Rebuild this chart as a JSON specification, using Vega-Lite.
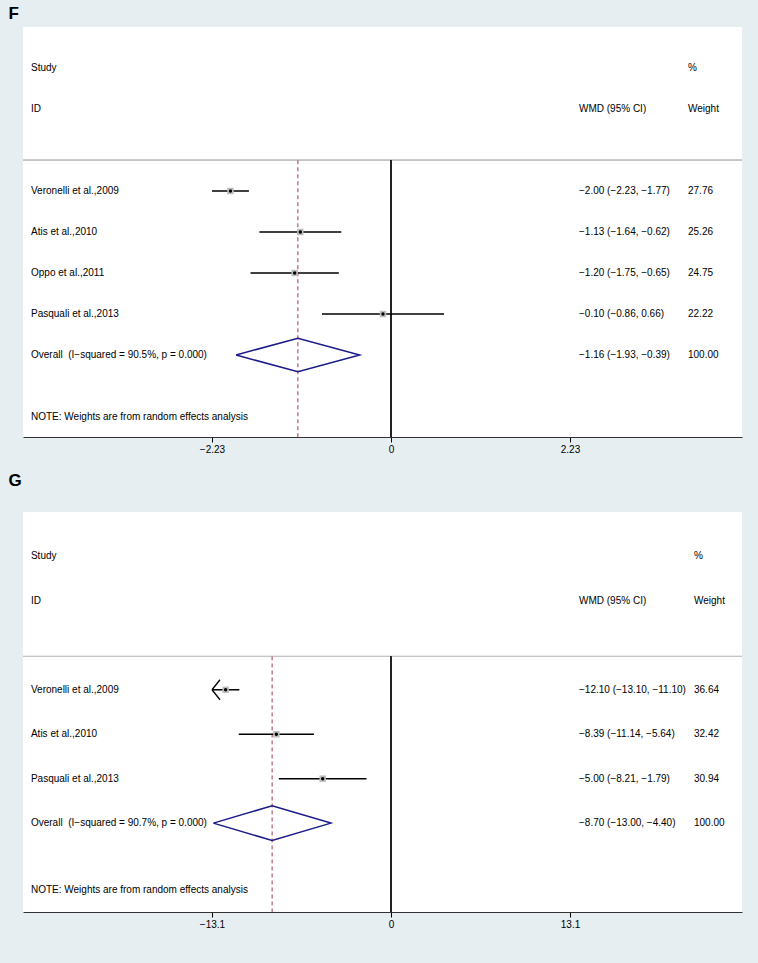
{
  "$schema": "https://vega.github.io/schema/vega-lite/v6.json",
  "background": "#e7eef1",
  "padding": {"left": 8, "top": 5, "right": 17, "bottom": 34},
  "spacing": 18,
  "config": {
    "view": {"fill": "white", "stroke": null},
    "font": "Liberation Sans",
    "text": {"fontSize": 10, "font": "Liberation Sans", "color": "#000"},
    "axisX": {"domainColor": "#333", "domainWidth": 1.2, "tickColor": "#000", "tickSize": 5, "tickWidth": 1, "labelFontSize": 10, "labelColor": "#000", "labelPadding": 2, "grid": false, "labelFont": "Liberation Sans", "title": null}
  },
  "datasets": {
    "f": [
      {"row": -2, "type": "header", "study": "Study", "ci": "", "wt": "%"},
      {"row": -1, "type": "header", "study": "ID", "ci": "WMD (95% CI)", "wt": "Weight"},
      {"row": 1, "type": "study", "study": "Veronelli et al.,2009", "est": -2.00, "lo": -2.23, "hi": -1.77, "ci": "−2.00 (−2.23, −1.77)", "wt": "27.76"},
      {"row": 2, "type": "study", "study": "Atis et al.,2010", "est": -1.13, "lo": -1.64, "hi": -0.62, "ci": "−1.13 (−1.64, −0.62)", "wt": "25.26"},
      {"row": 3, "type": "study", "study": "Oppo et al.,2011", "est": -1.20, "lo": -1.75, "hi": -0.65, "ci": "−1.20 (−1.75, −0.65)", "wt": "24.75"},
      {"row": 4, "type": "study", "study": "Pasquali et al.,2013", "est": -0.10, "lo": -0.86, "hi": 0.66, "ci": "−0.10 (−0.86, 0.66)", "wt": "22.22"},
      {"row": 5, "type": "overall", "study": "Overall \u00a0(I−squared = 90.5%, p = 0.000)", "est": -1.16, "lo": -1.93, "hi": -0.39, "ci": "−1.16 (−1.93, −0.39)", "wt": "100.00"},
      {"row": 6.5, "type": "note", "study": "NOTE: Weights are from random effects analysis", "ci": "", "wt": ""}
    ],
    "fd": [
      {"k": 0, "x": -1.93, "y": 5},
      {"k": 1, "x": -1.16, "y": 4.59},
      {"k": 2, "x": -0.39, "y": 5},
      {"k": 3, "x": -1.16, "y": 5.41},
      {"k": 4, "x": -1.93, "y": 5}
    ],
    "g": [
      {"row": -2, "type": "header", "study": "Study", "ci": "", "wt": "%"},
      {"row": -1, "type": "header", "study": "ID", "ci": "WMD (95% CI)", "wt": "Weight"},
      {"row": 1, "type": "study", "study": "Veronelli et al.,2009", "est": -12.10, "lo": -13.10, "hi": -11.10, "ci": "−12.10 (−13.10, −11.10)", "wt": "36.64"},
      {"row": 2, "type": "study", "study": "Atis et al.,2010", "est": -8.39, "lo": -11.14, "hi": -5.64, "ci": "−8.39 (−11.14, −5.64)", "wt": "32.42"},
      {"row": 3, "type": "study", "study": "Pasquali et al.,2013", "est": -5.00, "lo": -8.21, "hi": -1.79, "ci": "−5.00 (−8.21, −1.79)", "wt": "30.94"},
      {"row": 4, "type": "overall", "study": "Overall \u00a0(I−squared = 90.7%, p = 0.000)", "est": -8.70, "lo": -13.00, "hi": -4.40, "ci": "−8.70 (−13.00, −4.40)", "wt": "100.00"},
      {"row": 5.5, "type": "note", "study": "NOTE: Weights are from random effects analysis", "ci": "", "wt": ""}
    ],
    "gd": [
      {"k": 0, "x": -13.0, "y": 4},
      {"k": 1, "x": -8.70, "y": 3.61},
      {"k": 2, "x": -4.40, "y": 4},
      {"k": 3, "x": -8.70, "y": 4.39},
      {"k": 4, "x": -13.0, "y": 4}
    ],
    "garrow": [
      {"row": 1, "x": -13.10}
    ]
  },
  "vconcat": [
    {
      "title": {"text": "F", "anchor": "start", "dx": -14, "fontSize": 17, "fontWeight": "bold", "offset": 4, "color": "#000", "font": "Liberation Sans"},
      "width": 719,
      "height": 410,
      "data": {"name": "f"},
      "layer": [
        {
          "mark": {"type": "rule", "color": "#c4c4c4", "strokeWidth": 1},
          "encoding": {
            "y": {"datum": 0.25, "type": "quantitative", "axis": null, "scale": {"domain": [-3, 7], "reverse": true, "nice": false, "zero": false}}
          }
        },
        {
          "mark": {"type": "rule", "color": "#222", "strokeWidth": 1},
          "encoding": {
            "x": {"datum": 0, "type": "quantitative", "scale": {"domain": [-4.5846, 4.3728], "nice": false, "zero": false},
                  "axis": {"values": [-2.23, 0, 2.23], "labelExpr": "datum.value == 0 ? '0' : format(datum.value, '.2f')"}},
            "y": {"datum": 0.25, "type": "quantitative", "axis": null},
            "y2": {"datum": 7}
          }
        },
        {
          "transform": [{"filter": "datum.type == 'overall'"}],
          "mark": {"type": "rule", "color": "#a23a4a", "strokeWidth": 1, "strokeDash": [4, 3]},
          "encoding": {
            "x": {"field": "est", "type": "quantitative"},
            "y": {"datum": 0.25, "type": "quantitative", "axis": null},
            "y2": {"datum": 7}
          }
        },
        {
          "transform": [{"filter": "datum.type == 'study'"}],
          "mark": {"type": "rule", "color": "#000", "strokeWidth": 1.5},
          "encoding": {
            "x": {"field": "lo", "type": "quantitative"},
            "x2": {"field": "hi"},
            "y": {"field": "row", "type": "quantitative", "axis": null}
          }
        },
        {
          "transform": [{"filter": "datum.type == 'study'"}],
          "mark": {"type": "point", "shape": "square", "filled": true, "color": "#bdbdbd", "size": 42, "opacity": 1},
          "encoding": {
            "x": {"field": "est", "type": "quantitative"},
            "y": {"field": "row", "type": "quantitative", "axis": null}
          }
        },
        {
          "transform": [{"filter": "datum.type == 'study'"}],
          "mark": {"type": "point", "shape": "circle", "filled": true, "color": "#000", "size": 12, "opacity": 1},
          "encoding": {
            "x": {"field": "est", "type": "quantitative"},
            "y": {"field": "row", "type": "quantitative", "axis": null}
          }
        },
        {
          "data": {"name": "fd"},
          "mark": {"type": "line", "color": "#1a1a8a", "strokeWidth": 1.5},
          "encoding": {
            "x": {"field": "x", "type": "quantitative"},
            "y": {"field": "y", "type": "quantitative", "axis": null},
            "order": {"field": "k"}
          }
        },
        {
          "mark": {"type": "text", "align": "left", "baseline": "middle"},
          "encoding": {
            "x": {"datum": -4.485, "type": "quantitative"},
            "y": {"field": "row", "type": "quantitative", "axis": null},
            "text": {"field": "study"}
          }
        },
        {
          "mark": {"type": "text", "align": "left", "baseline": "middle"},
          "encoding": {
            "x": {"datum": 2.342, "type": "quantitative"},
            "y": {"field": "row", "type": "quantitative", "axis": null},
            "text": {"field": "ci"}
          }
        },
        {
          "mark": {"type": "text", "align": "left", "baseline": "middle"},
          "encoding": {
            "x": {"datum": 3.70, "type": "quantitative"},
            "y": {"field": "row", "type": "quantitative", "axis": null},
            "text": {"field": "wt"}
          }
        }
      ]
    },
    {
      "title": {"text": "G", "anchor": "start", "dx": -14, "fontSize": 17, "fontWeight": "bold", "offset": 22, "color": "#000", "font": "Liberation Sans"},
      "width": 719,
      "height": 400,
      "data": {"name": "g"},
      "layer": [
        {
          "mark": {"type": "rule", "color": "#c4c4c4", "strokeWidth": 1},
          "encoding": {
            "y": {"datum": 0.25, "type": "quantitative", "axis": null, "scale": {"domain": [-3, 6], "reverse": true, "nice": false, "zero": false}}
          }
        },
        {
          "mark": {"type": "rule", "color": "#222", "strokeWidth": 1},
          "encoding": {
            "x": {"datum": 0, "type": "quantitative", "scale": {"domain": [-26.932, 25.688], "nice": false, "zero": false},
                  "axis": {"values": [-13.1, 0, 13.1], "labelExpr": "datum.value == 0 ? '0' : format(datum.value, '.1f')"}},
            "y": {"datum": 0.25, "type": "quantitative", "axis": null},
            "y2": {"datum": 6}
          }
        },
        {
          "transform": [{"filter": "datum.type == 'overall'"}],
          "mark": {"type": "rule", "color": "#a23a4a", "strokeWidth": 1, "strokeDash": [4, 3]},
          "encoding": {
            "x": {"field": "est", "type": "quantitative"},
            "y": {"datum": 0.25, "type": "quantitative", "axis": null},
            "y2": {"datum": 6}
          }
        },
        {
          "transform": [{"filter": "datum.type == 'study'"}],
          "mark": {"type": "rule", "color": "#000", "strokeWidth": 1.5},
          "encoding": {
            "x": {"field": "lo", "type": "quantitative"},
            "x2": {"field": "hi"},
            "y": {"field": "row", "type": "quantitative", "axis": null}
          }
        },
        {
          "data": {"name": "garrow"},
          "mark": {"type": "point", "shape": "M0,0L0.8,-1M0,0L0.8,1", "filled": false, "color": "#000", "strokeWidth": 1.3, "size": 400, "opacity": 1},
          "encoding": {
            "x": {"field": "x", "type": "quantitative"},
            "y": {"field": "row", "type": "quantitative", "axis": null}
          }
        },
        {
          "transform": [{"filter": "datum.type == 'study'"}],
          "mark": {"type": "point", "shape": "square", "filled": true, "color": "#bdbdbd", "size": 42, "opacity": 1},
          "encoding": {
            "x": {"field": "est", "type": "quantitative"},
            "y": {"field": "row", "type": "quantitative", "axis": null}
          }
        },
        {
          "transform": [{"filter": "datum.type == 'study'"}],
          "mark": {"type": "point", "shape": "circle", "filled": true, "color": "#000", "size": 12, "opacity": 1},
          "encoding": {
            "x": {"field": "est", "type": "quantitative"},
            "y": {"field": "row", "type": "quantitative", "axis": null}
          }
        },
        {
          "data": {"name": "gd"},
          "mark": {"type": "line", "color": "#1a1a8a", "strokeWidth": 1.5},
          "encoding": {
            "x": {"field": "x", "type": "quantitative"},
            "y": {"field": "y", "type": "quantitative", "axis": null},
            "order": {"field": "k"}
          }
        },
        {
          "mark": {"type": "text", "align": "left", "baseline": "middle"},
          "encoding": {
            "x": {"datum": -26.35, "type": "quantitative"},
            "y": {"field": "row", "type": "quantitative", "axis": null},
            "text": {"field": "study"}
          }
        },
        {
          "mark": {"type": "text", "align": "left", "baseline": "middle"},
          "encoding": {
            "x": {"datum": 13.76, "type": "quantitative"},
            "y": {"field": "row", "type": "quantitative", "axis": null},
            "text": {"field": "ci"}
          }
        },
        {
          "mark": {"type": "text", "align": "left", "baseline": "middle"},
          "encoding": {
            "x": {"datum": 22.175, "type": "quantitative"},
            "y": {"field": "row", "type": "quantitative", "axis": null},
            "text": {"field": "wt"}
          }
        }
      ]
    }
  ]
}
